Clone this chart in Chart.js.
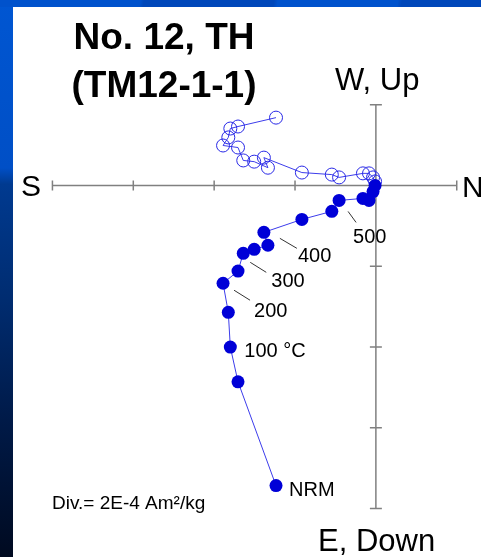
<!DOCTYPE html>
<html>
<head>
<meta charset="utf-8">
<script src="https://cdn.jsdelivr.net/npm/chart.js@4"></script>
<style>
  html, body { margin: 0; padding: 0; }
  #wrap { position: relative; width: 481px; height: 557px; background: #fff; overflow: hidden; }
  #leftBand { position: absolute; left: 0; top: 0; width: 13px; height: 557px;
    background: linear-gradient(180deg, #0056d2 0px, #004fc6 168px, #003a90 184px, #002c70 300px, #001a48 420px, #000a20 557px); }
  #topBand { position: absolute; left: 0; top: 0; width: 481px; height: 7px;
    background: linear-gradient(100deg, #0052cc 0 138px, #0047ba 142px 270px, #0052cc 274px 392px, #0047ba 396px); }
  canvas { position: absolute; left: 0; top: 0; }
</style>
</head>
<body>
<div id="wrap">
  <div id="leftBand"></div>
  <div id="topBand"></div>
  <canvas id="zij" width="481" height="557"></canvas>
</div>
<script>
// demagnetization steps, values in 1E-4 Am2/kg (1 division = 2)
const north = [-2.47, -3.41, -3.60, -3.65, -3.78, -3.41, -3.28, -3.01, -2.67, -2.77, -1.83, -1.09, -0.91, -0.32, -0.17, -0.07, -0.02];
const eastDown = [7.43, 4.86, 4.00, 3.14, 2.42, 2.12, 1.68, 1.58, 1.48, 1.16, 0.84, 0.64, 0.37, 0.32, 0.37, 0.15, 0.00];
const up = [1.68, 1.46, 1.41, 1.19, 0.99, 0.94, 0.62, 0.59, 0.44, 0.69, 0.32, 0.27, 0.20, 0.30, 0.30, 0.20, 0.10];
const stepNames = ["NRM", "", "100 °C", "", "200", "", "300", "", "", "400", "", "", "500", "", "", "", ""];
const axisTicks = [-8, -6, -4, -2, 0, 2];

// where each step label goes relative to its point (px), and optional leader line
const labelPlace = {
  "NRM": { dx: 13, dy: 5 },
  "100 °C": { dx: 14, dy: 4 },
  "200": { dx: 31, dy: 28, lead: [11, 7, 27, 17] },
  "300": { dx: 28, dy: 28, lead: [7, 9, 23, 19] },
  "400": { dx: 34, dy: 24, lead: [16, 6, 33, 16] },
  "500": { dx: 14, dy: 37, lead: [9, 11, 17, 22] }
};

const horiz = north.map((n, i) => ({ x: n, y: -eastDown[i] }));
const vert = north.map((n, i) => ({ x: n, y: up[i] }));

const overlay = {
  id: 'overlay',
  beforeDatasetsDraw(chart) {
    const { ctx, scales: { x, y } } = chart;
    const x0 = x.getPixelForValue(0);
    const y0 = y.getPixelForValue(0);
    ctx.save();
    ctx.strokeStyle = '#808080';
    ctx.lineWidth = 1.5;
    ctx.beginPath();
    ctx.moveTo(x.getPixelForValue(axisTicks[0]), y0);
    ctx.lineTo(x.getPixelForValue(axisTicks[axisTicks.length - 1]), y0);
    ctx.moveTo(x0, y.getPixelForValue(axisTicks[axisTicks.length - 1]));
    ctx.lineTo(x0, y.getPixelForValue(axisTicks[0]));
    axisTicks.forEach(t => {
      const px = x.getPixelForValue(t);
      ctx.moveTo(px, y0 - 5);
      ctx.lineTo(px, y0 + 5);
      const py = y.getPixelForValue(t);
      ctx.moveTo(x0 - 6, py);
      ctx.lineTo(x0 + 6, py);
    });
    ctx.stroke();
    ctx.restore();
  },
  afterDatasetsDraw(chart) {
    const { ctx, scales: { x, y } } = chart;
    ctx.save();
    ctx.fillStyle = '#000';
    ctx.textBaseline = 'middle';
    ctx.textAlign = 'left';
    ctx.font = '20px "Liberation Sans", Arial, sans-serif';
    ctx.strokeStyle = '#333';
    ctx.lineWidth = 1;
    stepNames.forEach((name, i) => {
      if (!name) return;
      const p = labelPlace[name];
      const px = x.getPixelForValue(horiz[i].x);
      const py = y.getPixelForValue(horiz[i].y);
      if (p.lead) {
        ctx.beginPath();
        ctx.moveTo(px + p.lead[0], py + p.lead[1]);
        ctx.lineTo(px + p.lead[2], py + p.lead[3]);
        ctx.stroke();
      }
      ctx.fillText(name, px + p.dx, py + p.dy);
    });

    ctx.textBaseline = 'alphabetic';
    ctx.textAlign = 'center';
    ctx.font = 'bold 37px "Liberation Sans", Arial, sans-serif';
    ctx.fillText('No. 12, TH', 164, 49);
    ctx.fillText('(TM12-1-1)', 164, 97);

    ctx.textAlign = 'left';
    ctx.font = '31px "Liberation Sans", Arial, sans-serif';
    ctx.fillText('W, Up', 335, 90);
    ctx.fillText('E, Down', 318, 551);
    ctx.font = '30px "Liberation Sans", Arial, sans-serif';
    ctx.fillText('S', 21, 196);
    ctx.fillText('N', 462, 197);

    ctx.font = '19px "Liberation Sans", Arial, sans-serif';
    ctx.fillText('Div.= 2E-4 Am²/kg', 52, 509);
    ctx.restore();
  }
};

new Chart(document.getElementById('zij'), {
  type: 'scatter',
  data: {
    datasets: [
      {
        data: horiz,
        showLine: true,
        borderColor: 'rgb(60,60,235)',
        borderWidth: 1,
        pointRadius: 6.5,
        pointBackgroundColor: 'rgb(0,0,215)',
        pointBorderColor: 'rgb(0,0,215)',
        pointBorderWidth: 0
      },
      {
        data: vert,
        showLine: true,
        borderColor: 'rgb(60,60,235)',
        borderWidth: 1,
        pointRadius: 6.5,
        pointBackgroundColor: 'rgba(0,0,0,0)',
        pointBorderColor: 'rgb(40,40,230)',
        pointBorderWidth: 1
      }
    ]
  },
  options: {
    responsive: false,
    animation: false,
    clip: false,
    layout: { autoPadding: false, padding: { left: 12, top: 32, right: 0, bottom: 8 } },
    scales: {
      x: { display: false, min: -9, max: 2.6 },
      y: { display: false, min: -9, max: 3.8 }
    },
    plugins: { legend: { display: false }, tooltip: { enabled: false } }
  },
  plugins: [overlay]
});
</script>
</body>
</html>
